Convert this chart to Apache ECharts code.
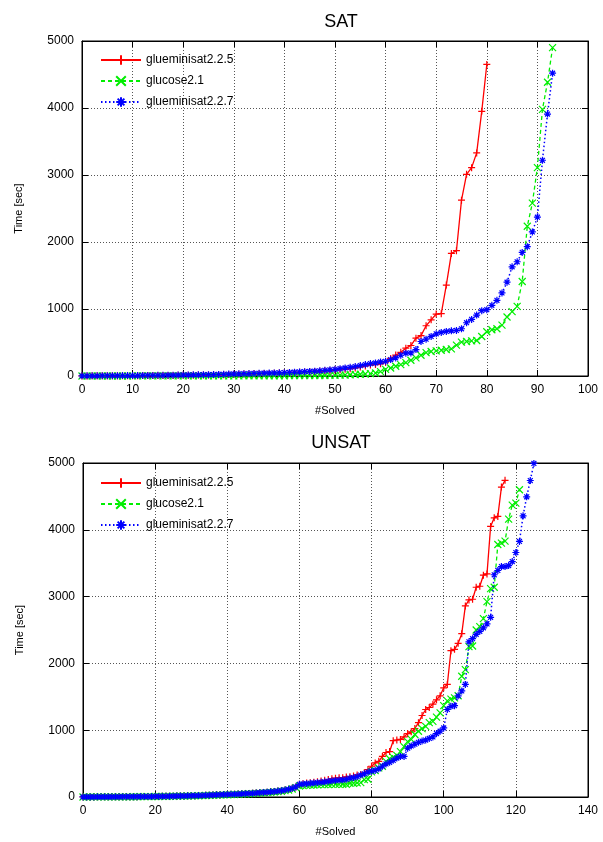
<!DOCTYPE html>
<html>
<head>
<meta charset="utf-8">
<script src="https://cdn.jsdelivr.net/npm/echarts@6/dist/echarts.min.js"></script>
<style>
html,body{margin:0;padding:0;background:#fff;}
#c1,#c2{width:603px;height:421px;}
</style>
</head>
<body>
<div id="c1"></div>
<div id="c2"></div>
<script>
// ---- data (x = #solved index starting at 0, y = time in seconds) ----
const seriesNames = ['glueminisat2.2.5', 'glucose2.1', 'glueminisat2.2.7'];

const satRed = [1,1,2,2,2,3,3,3,4,4,
5,5,6,6,7,7,8,8,9,10,
11,12,13,14,15,16,17,19,20,22,
24,26,28,30,32,34,36,38,41,44,
47,50,53,56,60,64,68,72,77,82,
88,95,102,110,120,135,150,165,170,181,
205,262,312,354,415,455,565,603,750,838,
925,930,1357,1830,1870,2625,3010,3110,3330,3950,
4650];

const satGreen = [0,0,0,0,0,0,0,0,0,0,
1,1,1,1,1,1,1,1,1,1,
1,1,1,2,2,2,2,2,2,2,
2,2,3,3,3,3,3,4,4,4,
4,5,5,5,6,6,7,7,8,9,
10,12,15,18,22,26,30,35,45,65,
100,120,145,170,200,235,270,310,350,365,
375,385,395,405,460,505,515,525,530,590,
660,690,705,760,880,960,1040,1410,2235,2580,
3110,3980,4385,4900];

const satBlue = [2,2,3,3,4,4,5,5,6,6,
7,7,8,8,9,10,11,12,13,14,
15,16,17,18,19,20,22,24,26,28,
30,32,34,36,38,40,42,44,46,48,
50,53,56,60,64,68,72,78,85,92,
100,110,120,130,140,155,170,185,195,210,
220,245,270,310,340,345,395,515,550,590,
630,650,665,675,680,705,795,845,910,975,
990,1055,1130,1240,1400,1630,1705,1845,1930,2150,
2370,3220,3910,4520];

const unsatRed = [1,1,1,1,2,2,2,2,3,3,
3,4,4,4,5,5,6,6,7,7,
8,9,10,11,12,13,14,15,16,18,
19,20,22,24,26,28,30,32,34,36,
38,40,42,44,47,50,53,56,60,64,
68,72,77,82,88,95,105,115,130,150,
190,200,208,215,222,230,240,250,262,275,
282,287,290,300,305,313,330,338,363,412,
460,510,534,607,666,680,843,853,862,900,
950,975,1025,1113,1220,1310,1340,1390,1455,1515,
1635,1685,2190,2210,2300,2445,2860,2950,2960,3140,
3155,3320,3340,4050,4180,4200,4640,4740];

const unsatGreen = [0,0,1,1,1,1,1,2,2,2,
2,3,3,3,4,4,5,5,6,6,
7,8,9,9,10,11,12,13,14,15,
16,17,19,20,22,24,26,28,30,32,
34,36,38,40,42,45,48,51,55,58,
62,66,70,75,80,86,95,105,120,140,
165,170,175,178,180,183,185,186,187,188,
189,190,191,191,206,206,211,216,260,265,
377,397,436,460,534,573,593,622,680,754,
828,862,936,985,1024,1058,1113,1132,1195,1260,
1367,1440,1466,1485,1515,1808,1907,2250,2260,2500,
2550,2670,2925,3120,3140,3780,3800,3830,4160,4370,
4400,4600];

const unsatBlue = [1,1,1,1,2,2,2,2,3,3,
3,4,4,4,5,5,6,6,7,7,
8,9,10,11,12,13,14,15,16,18,
19,20,22,24,26,28,30,32,34,36,
38,40,42,44,47,50,53,56,60,64,
68,72,77,82,88,95,105,115,130,150,
190,195,200,205,210,215,220,228,235,242,
248,253,258,265,284,290,304,328,348,372,
387,397,422,460,495,520,549,583,607,607,
730,765,790,818,838,853,877,900,950,985,
1034,1310,1357,1367,1515,1588,1686,2323,2370,2436,
2480,2533,2592,2690,3327,3391,3450,3450,3465,3524,
3660,3826,4209,4494,4738,4994];

const satXTicks = {min: 0, max: 100, interval: 10};
const unsatXTicks = {min: 0, max: 140, interval: 20};
const yTicks = {min: 0, max: 5000, interval: 1000};

// ---- rendering ----
const FONT = 'Liberation Sans, Arial, Helvetica, sans-serif';
const styles = [
  {color: '#ff0000', type: 'solid', symbol: 'path://M0,5L10,5M5,0L5,10', width: 1.3},
  {color: '#00ee00', type: [4, 3], symbol: 'path://M0,0L10,10M10,0L0,10', width: 1.3},
  {color: '#0000ff', type: [1.5, 2.5], symbol: 'path://M0,5L10,5M5,0L5,10M1.5,1.5L8.5,8.5M8.5,1.5L1.5,8.5', width: 1.5}
];

function toPoints(arr) { return arr.map((v, i) => [i, v]); }
const plain = v => String(v);

function makeOption(title, xt, arrays, gridTop, gridBottom, gridLeft, legendTop) {
  const axisCommon = {
    axisLine: {show: true, onZero: false, lineStyle: {color: '#000', width: 1}},
    axisTick: {show: true, inside: true, length: 6, lineStyle: {color: '#000'}}
  };
  const series = arrays.map((arr, k) => ({
    name: seriesNames[k],
    type: 'line',
    data: toPoints(arr),
    xAxisIndex: 0, yAxisIndex: 0,
    symbol: styles[k].symbol,
    symbolSize: 7,
    showSymbol: true,
    showAllSymbol: true,
    lineStyle: {color: styles[k].color, type: styles[k].type, width: styles[k].width},
    itemStyle: {color: styles[k].color, borderColor: styles[k].color, borderWidth: 1.2},
    emphasis: {disabled: true},
    z: 3 + k
  }));
  return {
    animation: false,
    backgroundColor: '#fff',
    textStyle: {fontFamily: FONT},
    title: {
      text: title, left: 336, top: 8, textAlign: 'center',
      textStyle: {fontFamily: FONT, fontSize: 18, fontWeight: 'normal', color: '#000'}
    },
    legend: {
      data: seriesNames, orient: 'vertical', left: 95, top: legendTop,
      itemWidth: 40, itemHeight: 12, itemGap: 9, selectedMode: false,
      textStyle: {fontFamily: FONT, fontSize: 12, color: '#000'}
    },
    grid: {left: gridLeft, right: 15, top: gridTop, bottom: gridBottom, show: true, borderColor: '#000', borderWidth: 1},
    xAxis: [
      Object.assign({
        type: 'value', position: 'bottom', min: xt.min, max: xt.max, interval: xt.interval,
        name: '#Solved', nameLocation: 'middle', nameGap: 29,
        nameTextStyle: {fontFamily: FONT, fontSize: 11, color: '#000'},
        axisLabel: {color: '#000', fontSize: 12, margin: 8, fontFamily: FONT, formatter: plain},
        splitLine: {show: true, lineStyle: {color: '#555', type: [1, 2], width: 1}}
      }, axisCommon),
      Object.assign({
        type: 'value', position: 'top', min: xt.min, max: xt.max, interval: xt.interval,
        axisLabel: {show: false}, splitLine: {show: false}
      }, axisCommon)
    ],
    yAxis: [
      Object.assign({
        type: 'value', position: 'left', min: yTicks.min, max: yTicks.max, interval: yTicks.interval,
        name: 'Time [sec]', nameLocation: 'middle', nameGap: 58,
        nameTextStyle: {fontFamily: FONT, fontSize: 11, color: '#000'},
        axisLabel: {color: '#000', fontSize: 12, margin: 8, fontFamily: FONT, formatter: plain},
        splitLine: {show: true, lineStyle: {color: '#555', type: [1, 2], width: 1}}
      }, axisCommon),
      Object.assign({
        type: 'value', position: 'right', min: yTicks.min, max: yTicks.max, interval: yTicks.interval,
        axisLabel: {show: false}, splitLine: {show: false}
      }, axisCommon)
    ],
    series: series
  };
}

const c1 = echarts.init(document.getElementById('c1'), null, {renderer: 'canvas'});
c1.setOption(makeOption('SAT', satXTicks, [satRed, satGreen, satBlue], 41, 41, 82, 49));
const c2 = echarts.init(document.getElementById('c2'), null, {renderer: 'canvas'});
c2.setOption(makeOption('UNSAT', unsatXTicks, [unsatRed, unsatGreen, unsatBlue], 42, 39, 83, 51));
</script>
</body>
</html>
